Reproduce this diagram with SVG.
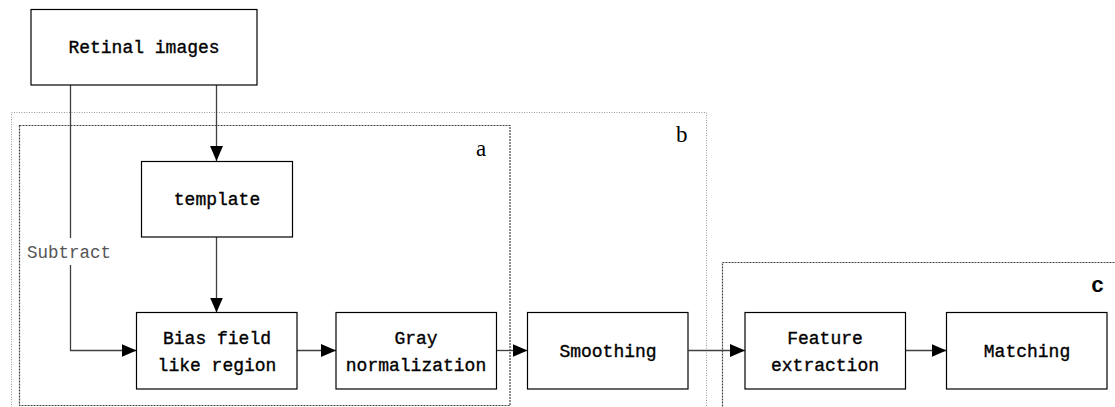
<svg xmlns="http://www.w3.org/2000/svg" width="1115" height="407" viewBox="0 0 1115 407">
<style>
.box{fill:#fff;stroke:#000;stroke-width:1.2}
.lbl{font-family:"Liberation Mono",monospace;font-size:18px;fill:#000;stroke:#000;stroke-width:0.35;text-anchor:middle}
.con{fill:none;stroke:#404040;stroke-width:1.3}
.grpb{fill:none;stroke:#999;stroke-width:1;stroke-dasharray:1 1.5}
.grpa{fill:none;stroke:#444;stroke-width:1.2;stroke-dasharray:2 1}
.tag{font-family:"Liberation Serif",serif;font-size:23px;fill:#000}
</style>
<defs>
<marker id="ah" markerWidth="15" markerHeight="13" refX="15" refY="6.5" orient="auto" markerUnits="userSpaceOnUse">
<path d="M0,0 L15,6.5 L0,13 Z" fill="#000"/>
</marker>
</defs>
<g id="groups">
<rect id="group-b" class="grpb" x="11.5" y="112.5" width="695" height="310"/>
<rect id="group-a" class="grpa" x="19.5" y="125.5" width="490.5" height="280"/>
<rect id="group-c" class="grpa" x="722.5" y="262.5" width="410" height="160"/>
<text class="tag" x="476" y="156">a</text>
<text class="tag" x="676" y="142">b</text>
<text x="1091" y="292" style="font-family:'Liberation Mono',monospace;font-size:22px;font-weight:bold">c</text>
</g>
<g id="connectors">
<path class="con" d="M216.5,85 V161" marker-end="url(#ah)"/>
<path class="con" d="M216.5,237 V312.5" marker-end="url(#ah)"/>
<path class="con" d="M70.5,85 V238"/>
<path class="con" d="M70.5,265 V350.5 H136.5" marker-end="url(#ah)"/>
<path class="con" d="M297,350.5 H336" marker-end="url(#ah)"/>
<path class="con" d="M496.5,350.5 H527.5" marker-end="url(#ah)"/>
<path class="con" d="M688.5,350.5 H745" marker-end="url(#ah)"/>
<path class="con" d="M905.5,350.5 H946.5" marker-end="url(#ah)"/>
<text x="27" y="258" style="font-family:'Liberation Mono',monospace;font-size:17.5px;fill:#555">Subtract</text>
</g>
<g id="retinal">
<rect class="box" x="31" y="9.5" width="226" height="75.5"/>
<text class="lbl" x="144" y="53">Retinal images</text>
</g>
<g id="template">
<rect class="box" x="141.5" y="161.5" width="151" height="75.5"/>
<text class="lbl" x="217" y="205">template</text>
</g>
<g id="bias">
<rect class="box" x="136.5" y="312.5" width="160.5" height="76.5"/>
<text class="lbl" x="217" y="344">Bias field</text>
<text class="lbl" x="217" y="371">like region</text>
</g>
<g id="gray">
<rect class="box" x="336" y="312.5" width="160.5" height="76.5"/>
<text class="lbl" x="416" y="344">Gray</text>
<text class="lbl" x="416" y="371">normalization</text>
</g>
<g id="smoothing">
<rect class="box" x="527.5" y="312.5" width="160.5" height="76.5"/>
<text class="lbl" x="608" y="357">Smoothing</text>
</g>
<g id="feature">
<rect class="box" x="745" y="312.5" width="160.5" height="76.5"/>
<text class="lbl" x="825" y="344">Feature</text>
<text class="lbl" x="825" y="371">extraction</text>
</g>
<g id="matching">
<rect class="box" x="946.5" y="312.5" width="160.5" height="76.5"/>
<text class="lbl" x="1027" y="357">Matching</text>
</g>
</svg>
